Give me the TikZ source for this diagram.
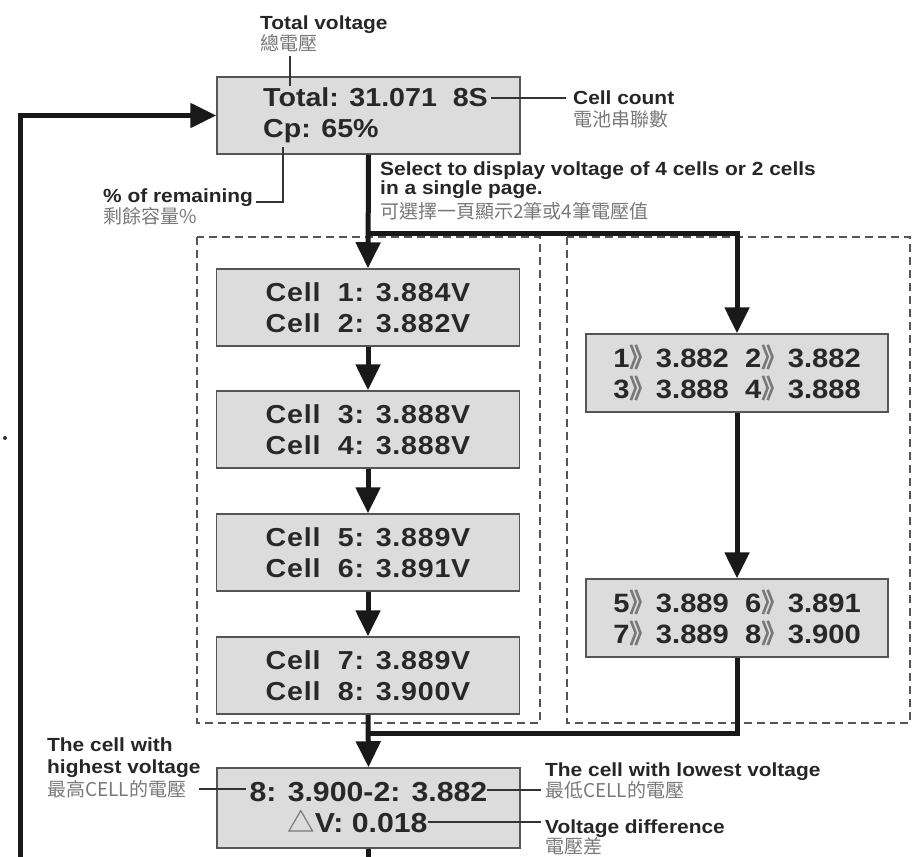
\documentclass[tikz,border=0pt]{standalone}
\usepackage{fontspec}
\setmainfont[FakeStretch=1.1]{Liberation Sans}
\newfontfamily\cellfont[FakeStretch=1.1,LetterSpace=3]{Liberation Sans}
\newfontfamily\cjk{Noto Sans CJK TC}
\usetikzlibrary{arrows.meta}
\definecolor{boxfill}{RGB}{220,220,220}
\definecolor{boxline}{RGB}{85,85,85}
\definecolor{txt}{RGB}{40,40,40}
\definecolor{cjkgray}{RGB}{120,120,120}
\newcommand{\gb}{{\cjk\color{cjkgray}》}}
\begin{document}
\begin{tikzpicture}[x=1pt,y=-1pt,
  box/.style={draw=boxline, fill=boxfill, line width=1.5pt, minimum width=303pt, minimum height=77pt, inner sep=0pt, text=txt, font=\bfseries\fontsize{26}{31}\selectfont, align=center},
  cellbox/.style={box, font=\cellfont\bfseries\fontsize{26}{31}\selectfont},
  thickline/.style={line width=5pt, black!90},
  arr/.style={-{Triangle[width=24pt,length=26pt]}},
  thinline/.style={line width=1.5pt, black!80},
  dashbox/.style={draw=boxline, line width=1.5pt, dash pattern=on 8pt off 5pt},
  lab/.style={font=\bfseries\fontsize{19}{23}\selectfont, text=black!85, anchor=base west, inner sep=0pt},
  clab/.style={font=\cjk\fontsize{19}{22}\selectfont, text=cjkgray, anchor=base west, inner sep=0pt}]
\useasboundingbox (0,0) rectangle (917,856);

% dashed frames
\draw[dashbox] (197,237) rectangle (540,723);
\draw[dashbox] (567,237) rectangle (910,723);

% boxes
\node[box, align=left] (top) at (368.5,115.5) {\hspace*{14pt}Total: 31.071\ \ 8S\\\hspace*{14pt}Cp: 65\%};
\node[cellbox] (c1) at (368,307.5) {Cell\ \ 1: 3.884V\\Cell\ \ 2: 3.882V};
\node[cellbox] (c2) at (368,429.5) {Cell\ \ 3: 3.888V\\Cell\ \ 4: 3.888V};
\node[cellbox] (c3) at (368,552.5) {Cell\ \ 5: 3.889V\\Cell\ \ 6: 3.891V};
\node[cellbox] (c4) at (368,675.5) {Cell\ \ 7: 3.889V\\Cell\ \ 8: 3.900V};
\node[box, minimum width=302pt, minimum height=78pt, font=\bfseries\fontsize{26.5}{31}\selectfont] (r1) at (737,373) {1\gb 3.882\ \ 2\gb 3.882\\3\gb 3.888\ \ 4\gb 3.888};
\node[box, minimum width=302pt, minimum height=78pt, font=\bfseries\fontsize{26.5}{31}\selectfont] (r2) at (737,618) {5\gb 3.889\ \ 6\gb 3.891\\7\gb 3.889\ \ 8\gb 3.900};
\node[box, minimum height=80pt, font=\bfseries\fontsize{27.5}{31}\selectfont] (bot) at (368.5,808) {8: 3.900-2: 3.882\\{\cjk\color{cjkgray}△}V: 0.018\hspace*{22pt}};

% main flow
\coordinate (split) at (368.5,233);
\coordinate (join) at (368.5,733);
\coordinate (botend) at (368.5,862);
\coordinate (loopbot) at (20,862);
\draw[thickline,arr] (top.south) -- (c1.north);
\draw[thickline,arr] (split) -| (r1.north);
\draw[thickline,arr] (c1.south) -- (c2.north);
\draw[thickline,arr] (c2.south) -- (c3.north);
\draw[thickline,arr] (c3.south) -- (c4.north);
\draw[thickline,arr] (r1.south) -- (r2.north);
\draw[thickline] (r2.south) |- (join);
\draw[thickline,arr] (c4.south) -- (bot.north);
\draw[thickline] (bot.south) -- (botend);
\draw[thickline,arr] (loopbot) |- (top.west);

% labels
\node[lab] (tv1) at (260,30) {Total voltage};
\node[clab] (tv2) at (260,51) {總電壓};
\node[lab] (cc1) at (573,105) {Cell count};
\node[clab] (cc2) at (573,126) {電池串聯數};
\node[lab] (pr1) at (103,202) {\% of remaining};
\node[clab] (pr2) at (103,223) {剩餘容量\%};
\node[lab] (sel1) at (380,175) {Select to display voltage of 4 cells or 2 cells};
\node[lab] (sel2) at (380,194) {in a single page.};
\node[clab] (sel3) at (380,218) {可選擇一頁顯示2筆或4筆電壓值};
\node[lab] (hi1) at (47,751) {The cell with};
\node[lab] (hi2) at (47,773) {highest voltage};
\node[clab] (hi3) at (47,796) {最高CELL的電壓};
\node[lab] (lo1) at (545,776) {The cell with lowest voltage};
\node[clab] (lo2) at (545,797) {最低CELL的電壓};
\node[lab] (vd1) at (545,833) {Voltage difference};
\node[clab] (vd2) at (545,853) {電壓差};

% annotation leaders
\coordinate (tvA) at (290,56);
\coordinate (tvB) at (290,86);
\draw[thinline] (tvA) -- (tvB);
\coordinate (ccA) at (491,98);
\coordinate (ccB) at (566,98);
\draw[thinline] (ccA) -- (ccB);
\coordinate (prA) at (256,202);
\coordinate (prB) at (283,147);
\draw[thinline] (prA) -| (prB);
\coordinate (hiA) at (199,789);
\coordinate (hiB) at (246,789);
\draw[thinline] (hiA) -- (hiB);
\coordinate (loA) at (487,790);
\coordinate (loB) at (541,790);
\draw[thinline] (loA) -- (loB);
\coordinate (vdA) at (428,822);
\coordinate (vdB) at (541,822);
\draw[thinline] (vdA) -- (vdB);

% stray dot
\fill[black!80] (5,438) circle (2pt);
\end{tikzpicture}
\end{document}
